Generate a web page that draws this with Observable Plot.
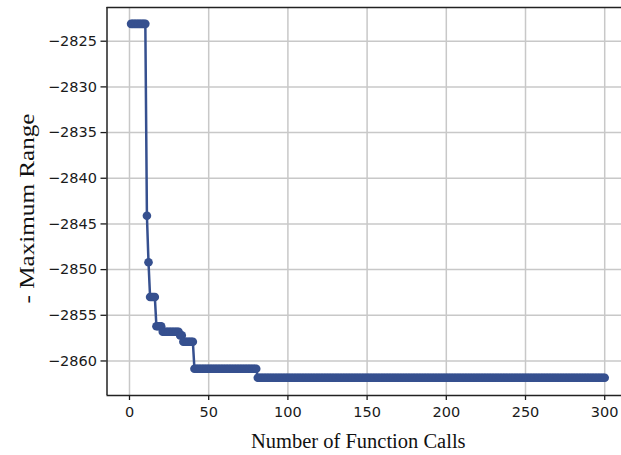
<!DOCTYPE html>
<html>
<head>
<meta charset="utf-8">
<script src="https://cdn.jsdelivr.net/npm/d3@7"></script>
<script src="https://cdn.jsdelivr.net/npm/@observablehq/plot@0.6"></script>
<style>
  html, body { margin: 0; padding: 0; background: #fff; }
  #chart { width: 621px; height: 455px; }
</style>
</head>
<body>
<div id="chart"></div>
<script>
// Run-length data: calls runStart..runEnd all share runValue
const runStart = [1, 11, 12, 13, 17, 21, 32, 34, 41, 81];
const runEnd   = [10, 11, 12, 16, 20, 31, 33, 40, 80, 300];
const runValue = [-2823.1, -2844.1, -2849.2, -2853.0, -2856.2, -2856.8, -2857.2, -2857.9, -2860.85, -2861.84];

const xTicks = [0, 50, 100, 150, 200, 250, 300];
const yTicks = [-2860, -2855, -2850, -2845, -2840, -2835, -2830, -2825];
const xDomain = [-14.2, 310.6];
const yDomain = [-2863.78, -2821.31];
const xTitle = "Number of Function Calls";
const yTitle = "- Maximum Range";

const data = [];
runStart.forEach((s, i) => {
  for (let c = s; c <= runEnd[i]; c++) data.push({call: c, value: runValue[i]});
});

const color = "#36508f";
const fmt = d3.format("d");

const chart = Plot.plot({
  width: 621,
  height: 455,
  marginLeft: 106.5,
  marginRight: 0,
  marginTop: 7,
  marginBottom: 60,
  style: {fontFamily: "DejaVu Sans", fontSize: "14.5px", color: "#1a1a1a", background: "#fff"},
  x: {domain: xDomain, ticks: xTicks, label: null},
  y: {domain: yDomain, ticks: yTicks, label: null},
  marks: [
    Plot.gridX(xTicks, {stroke: "#c8c8c8", strokeOpacity: 1, strokeWidth: 1.5}),
    Plot.gridY(yTicks, {stroke: "#c8c8c8", strokeOpacity: 1, strokeWidth: 1.5}),
    Plot.axisX(xTicks, {tickSize: 5, tickPadding: 6, strokeWidth: 1.3, fontSize: 14.5, tickFormat: fmt, label: null}),
    Plot.axisY(yTicks, {tickSize: 6, tickPadding: 4, strokeWidth: 1.3, fontSize: 14.5, tickFormat: fmt, label: null}),
    Plot.ruleX([xDomain[0]], {stroke: "#222", strokeWidth: 1.5}),
    Plot.ruleY([yDomain[0]], {stroke: "#222", strokeWidth: 1.5}),
    Plot.ruleY([yDomain[1]], {stroke: "#222", strokeWidth: 1.5}),
    Plot.line(data, {x: "call", y: "value", stroke: color, strokeWidth: 2.5}),
    Plot.dot(data, {x: "call", y: "value", fill: color, r: 4.3, stroke: null}),
    Plot.text([xTitle], {frameAnchor: "bottom", lineAnchor: "middle", textAnchor: "middle", dy: 46, dx: -6, fontFamily: "Liberation Serif", fontSize: 20.5, fill: "#111"}),
    Plot.text([yTitle], {frameAnchor: "left", textAnchor: "middle", lineAnchor: "middle", dx: -80, dy: 7, rotate: -90, fontFamily: "Liberation Serif", fontSize: 21, fill: "#111", className: "ytitle"})
  ]
});
d3.select(chart).selectAll(".ytitle text")
  .attr("textLength", 190)
  .attr("lengthAdjust", "spacingAndGlyphs");
document.getElementById("chart").appendChild(chart);
</script>
</body>
</html>
